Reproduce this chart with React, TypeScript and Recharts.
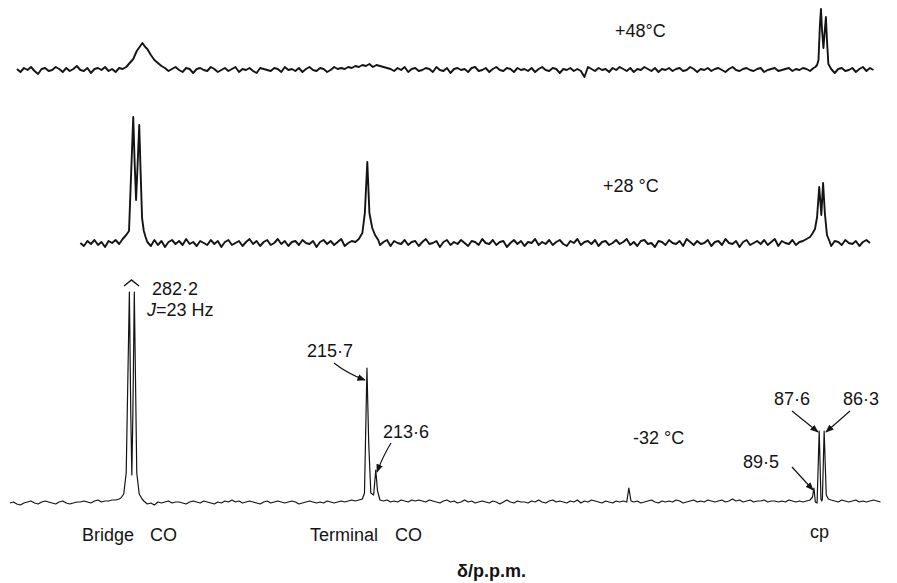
import React from 'react';
import { ComposedChart, Line, XAxis, YAxis } from 'recharts';

// 13C NMR traces, [ppm, intensity] (intensity above each trace's baseline)
const trace48: [number, number][] = [
  [315, 1], [314, -2], [313, 2], [312, 0], [311, 3], [310, -1], [309, -4], [308, 1], [307, 2], [306, -1],
  [305, 0], [304, 3], [303, 1], [302, -2], [301, 2], [300, -1], [299, 1], [298, 4], [297, 0], [296, -1],
  [295, 2], [294, -3], [293, 1], [292, 2], [291, 0], [290, 3], [289, -1], [288, 1], [287, -2], [286, 2],
  [285, 1], [284, 3], [283, 7], [282, 11], [281, 19], [280, 24], [279.4, 27], [278.6, 23], [278, 21], [277, 15],
  [276, 10], [275, 7], [274, 4], [273, 2], [272, -1], [271, 1], [270, 3], [269, 0], [268, -2], [267, 2],
  [266, 1], [265, -3], [264, 1], [263, 2], [262, 0], [261, -1], [260, 3], [259, 1], [258, -2], [257, 0],
  [256, 2], [255, -1], [254, 1], [253, 3], [252, -2], [251, 1], [250, 0], [249, 2], [248, -1], [247, -3],
  [246, 2], [245, 1], [244, 0], [243, -1], [242, 2], [241, 1], [240, -2], [239, 3], [238, 0], [237, 1],
  [236, -1], [235, 2], [234, -2], [233, 1], [232, 3], [231, 0], [230, -1], [229, 2], [228, 1], [227, -2],
  [226, 0], [225, 3], [224, 1], [223, 2], [222, 1], [221, 3], [220, 2], [219, 4], [218, 3], [217, 5],
  [216, 4], [215, 6], [214, 3], [213, 5], [212, 4], [211, 3], [210, 2], [209, 1], [208, -1], [207, 2],
  [206, 0], [205, 3], [204, -2], [203, 1], [202, 2], [201, -1], [200, 0], [199, 2], [198, 1], [197, -2],
  [196, 3], [195, 0], [194, -1], [193, 2], [192, -3], [191, 1], [190, 2], [189, 0], [188, 1], [187, -2],
  [186, 2], [185, 3], [184, -1], [183, 0], [182, 2], [181, -2], [180, 1], [179, 3], [178, 0], [177, -1],
  [176, 2], [175, 1], [174, -2], [173, 2], [172, 0], [171, 1], [170, -1], [169, 2], [168, -2], [167, 1],
  [166, 3], [165, 0], [164, -1], [163, 2], [162, 1], [161, -3], [160, 1], [159, 0], [158, 2], [157, -1],
  [156, 1], [155, -1], [154, -7], [153, 3], [152, 1], [151, -1], [150, 2], [149, 0], [148, 1], [147, -2],
  [146, 2], [145, 0], [144, 3], [143, 1], [142, -1], [141, 2], [140, -2], [139, 1], [138, 0], [137, 3],
  [136, 1], [135, -1], [134, 2], [133, -2], [132, 1], [131, 0], [130, 2], [129, -1], [128, 1], [127, 2],
  [126, -1], [125, 0], [124, 3], [123, 1], [122, -2], [121, 1], [120, 0], [119, 2], [118, -1], [117, 1],
  [116, 2], [115, 0], [114, -2], [113, 1], [112, 3], [111, 0], [110, -1], [109, 1], [108, 2], [107, 0],
  [106, -1], [105, 1], [104, 2], [103, -2], [102, 0], [101, 1], [100, 2], [99, -1], [98, 0], [97, 1],
  [96, 2], [95, -1], [94, 1], [93, 0], [92, 2], [91, 1], [90, -1], [89, 2], [88.5, 3], [88, 5],
  [87.6, 10], [87.2, 45], [86.9, 61], [86.6, 40], [86.2, 22], [85.8, 40], [85.5, 53], [85.2, 30], [84.8, 6], [84, 1],
  [83, -3], [82, 1], [81, 2], [80, -1], [79, 0], [78, 2], [77, -2], [76, 1], [75, 3], [74, -1],
  [73, 2], [72, 0],
];

const trace28: [number, number][] = [
  [297, 0], [296, -3], [295, 2], [294, -1], [293, 3], [292, -2], [291, 1], [290, -4], [289, 2], [288, 0],
  [287, 3], [286, -1], [285, 4], [284, 8], [283.6, 10], [283.2, 12], [282.7, 60], [282.0, 126], [281.6, 80], [281.2, 43],
  [280.8, 75], [280.3, 118], [279.9, 70], [279.5, 25], [279, 12], [278.5, 6], [278, 1], [277, -3], [276, 3], [275, -2],
  [274, 2], [273, -4], [272, 1], [271, 3], [270, -1], [269, 2], [268, -2], [267, 4], [266, -1], [265, 1],
  [264, -3], [263, 2], [262, 0], [261, -2], [260, 3], [259, -1], [258, 2], [257, -4], [256, 1], [255, 3],
  [254, -2], [253, 0], [252, 2], [251, -3], [250, 1], [249, 4], [248, -1], [247, 2], [246, -3], [245, 1],
  [244, 3], [243, -2], [242, 0], [241, 4], [240, -1], [239, 2], [238, -3], [237, 1], [236, 2], [235, -2],
  [234, 3], [233, 0], [232, -1], [231, 2], [230, -4], [229, 1], [228, 3], [227, -1], [226, 2], [225, -2],
  [224, 1], [223, 4], [222, -3], [221, 0], [220, 2], [219, 1], [218, 4], [217, 10], [216.3, 30], [215.6, 81],
  [215, 30], [214.2, 15], [213.4, 8], [212.5, 3], [212, -2], [211, 1], [210, 3], [209, -3], [208, 2], [207, 0],
  [206, -1], [205, 3], [204, -2], [203, 1], [202, 2], [201, -3], [200, 1], [199, 4], [198, -1], [197, 0],
  [196, 2], [195, -4], [194, 1], [193, 3], [192, -2], [191, 1], [190, -1], [189, 3], [188, 0], [187, -3],
  [186, 2], [185, 1], [184, -2], [183, 4], [182, 0], [181, -1], [180, 3], [179, -2], [178, 1], [177, 2],
  [176, -4], [175, 0], [174, 3], [173, -1], [172, 2], [171, -3], [170, 1], [169, 0], [168, 4], [167, -2],
  [166, 1], [165, -1], [164, 3], [163, -2], [162, 1], [161, 3], [160, -1], [159, -3], [158, 2], [157, 0],
  [156, 4], [155, -2], [154, 1], [153, 2], [152, -1], [151, 3], [150, -3], [149, 1], [148, 2], [147, -2],
  [146, 0], [145, 3], [144, -1], [143, 1], [142, 4], [141, -2], [140, 1], [139, -3], [138, 2], [137, 3],
  [136, -1], [135, 0], [134, -4], [133, 2], [132, 1], [131, -2], [130, 3], [129, 0], [128, -1], [127, 2],
  [126, -3], [125, 4], [124, 1], [123, -2], [122, 2], [121, -1], [120, 0], [119, 3], [118, -3], [117, 1],
  [116, 2], [115, -2], [114, 4], [113, 0], [112, -1], [111, 2], [110, -4], [109, 1], [108, 3], [107, -2],
  [106, 0], [105, 2], [104, -1], [103, 3], [102, -2], [101, 1], [100, 4], [99, -3], [98, 2], [97, 0],
  [96, -1], [95, 3], [94, -2], [93, 1], [92, 2], [91, 4], [90, 6], [89.4, 9], [88.6, 14], [88, 26],
  [87.4, 56], [87, 38], [86.8, 28], [86.3, 60], [85.8, 30], [85.2, 8], [84.5, 2], [84, -3], [83, 2], [82, 1],
  [81, -2], [80, 3], [79, 0], [78, -1], [77, 2], [76, -3], [75, 1], [74, 3], [73, 0],
];

const traceM32: [number, number][] = [
  [317, 0], [316, 1], [315, -1], [314, -2], [313, 0], [312, 1], [311, 2], [310, 0], [309, -1], [308, 1],
  [307, 2], [306, 1], [305, 0], [304, -1], [303, 1], [302, 2], [301, 0], [300, -1], [299, 0], [298, 1],
  [297, 1], [296, 2], [295, 1], [294, 0], [293, 2], [292, 3], [291, 1], [290, 2], [289, 2], [288, 3],
  [287, 3], [286, 4], [285.5, 5], [284.7, 9], [284.0, 30], [283.1, 211], [282.7, 90], [282.4, 28], [282.1, 90], [281.7, 211],
  [281.0, 30], [280.3, 9], [279.5, 4], [279, 2], [278, -1], [277, 0], [276, -2], [275, 1], [274, 0], [273, 1],
  [272, 2], [271, 0], [270, 1], [269, 1], [268, 0], [267, -1], [266, 1], [265, 2], [264, 1], [263, 0],
  [262, 2], [261, 1], [260, 0], [259, -1], [258, 1], [257, 0], [256, 2], [255, 1], [254, 3], [253, 1],
  [252, 2], [251, 0], [250, 1], [249, 2], [248, 1], [247, 0], [246, -1], [245, 1], [244, 2], [243, 0],
  [242, 1], [241, 2], [240, 1], [239, 0], [238, 1], [237, 2], [236, 1], [235, -1], [234, 0], [233, 1],
  [232, 2], [231, 1], [230, 0], [229, 1], [228, 0], [227, 2], [226, 1], [225, 0], [224, 1], [223, 2],
  [222, 1], [221, 2], [220, 3], [219, 2], [218, 3], [217, 4], [216.4, 10], [215.7, 135], [215.2, 60], [214.6, 10],
  [213.8, 8], [213.2, 33], [212.7, 12], [212, 3], [211, 2], [210, 3], [209, 1], [208, 2], [207, 1], [206, 3],
  [205, 2], [204, 1], [203, 3], [202, 2], [201, 3], [200, 2], [199, 1], [198, 3], [197, 2], [196, 1],
  [195, 0], [194, 2], [193, 3], [192, 1], [191, 2], [190, 0], [189, 1], [188, 3], [187, 1], [186, 2],
  [185, 0], [184, 1], [183, 2], [182, 1], [181, 0], [180, 2], [179, 1], [178, -1], [177, 1], [176, 3],
  [175, 1], [174, 0], [173, 2], [172, 1], [171, 1], [170, 0], [169, 2], [168, 1], [167, 3], [166, 1],
  [165, 0], [164, 2], [163, 3], [162, 1], [161, 2], [160, 1], [159, 0], [158, 2], [157, 1], [156, 3],
  [155, 0], [154, 2], [153, 1], [152, 3], [151, 2], [150, 1], [149, 0], [148, 2], [147, 1], [146, 0],
  [145, 2], [144, 1], [143, 2], [142, 1], [141.4, 15], [140.8, 2], [140, 1], [139, 2], [138, 0], [137, 1],
  [136, 2], [135, 3], [134, 1], [133, 0], [132, 2], [131, 1], [130, 2], [129, 1], [128, 3], [127, 2],
  [126, 0], [125, 1], [124, 2], [123, 3], [122, 1], [121, 2], [120, 1], [119, 3], [118, 2], [117, 1],
  [116, 2], [115, 3], [114, 1], [113, 2], [112, 4], [111, 2], [110, 3], [109, 1], [108, 2], [107, 3],
  [106, 1], [105, 2], [104, 2], [103, 3], [102, 1], [101, 2], [100, 2], [99, 1], [98, 2], [97, 1],
  [96, 3], [95, 2], [94, 1], [93, 2], [92, 1], [91, 2], [90, 3], [89.3, 6], [88.9, 15], [88.5, 1],
  [88.0, 0], [87.4, 72], [86.9, 4], [86.7, 2], [86.5, 4], [86.0, 72], [85.4, 8], [84.8, 4], [84, 3], [83, 2],
  [82, 1], [81, 3], [80, 2], [79, 1], [78, 2], [77, 3], [76, 1], [75, 2], [74, 1], [73, 2],
  [72, 3], [71, 2], [70, 1],
];

const W = 897;
const H = 583;
const ppmDomain: [number, number] = [65.33, 319.8];

// baselines of the three stacked traces, in chart y units
const series = [
  { key: 't48', data: trace48, base: 513, width: 1.9 },
  { key: 't28', data: trace28, base: 340, width: 1.9 },
  { key: 'tm32', data: traceM32, base: 80, width: 1.2 },
];

const ink = '#141414';
const font = '"Liberation Sans", Arial, sans-serif';

function Annotations() {
  const t = { fontFamily: font, fontSize: 18, fill: ink };
  const a = { fill: 'none', stroke: ink, strokeWidth: 1.2, markerEnd: 'url(#head)' };
  return (
    <svg width={W} height={H} style={{ position: 'absolute', left: 0, top: 0, pointerEvents: 'none' }}>
      <defs>
        <marker id="head" viewBox="0 0 10 10" refX="9" refY="5" markerWidth="7" markerHeight="7" orient="auto">
          <path d="M0 1 L10 5 L0 9 Z" fill={ink} />
        </marker>
      </defs>
      <text x={615} y={37} {...t}>+48°C</text>
      <text x={603} y={192} {...t}>+28 °C</text>
      <path d="M124 286 L131.5 280 L139 286" fill="none" stroke={ink} strokeWidth={1.4} />
      <text x={152} y={295} {...t}>282·2</text>
      <text x={147} y={316} {...t}><tspan fontStyle="italic">J</tspan>=23 Hz</text>
      <text x={307} y={357} {...t}>215·7</text>
      <path d="M334 363 Q348 374 365 380" {...a} />
      <text x={383} y={438} {...t}>213·6</text>
      <path d="M391 443 Q383 456 377 472" {...a} />
      <text x={633} y={444} {...t}>-32 °C</text>
      <text x={774} y={405} {...t}>87·6</text>
      <text x={843} y={405} {...t}>86·3</text>
      <path d="M792 411 L818 432" {...a} />
      <path d="M850 411 L826 432" {...a} />
      <text x={743} y={468} {...t}>89·5</text>
      <path d="M792 467 L813 490" {...a} />
      <text x={82} y={541} {...t}>Bridge</text>
      <text x={150} y={541} {...t}>CO</text>
      <text x={310} y={541} {...t}>Terminal</text>
      <text x={395} y={541} {...t}>CO</text>
      <text x={810} y={538} {...t}>cp</text>
      <text x={457} y={577} {...t} fontWeight="bold">δ/p.p.m.</text>
    </svg>
  );
}

export default function App() {
  return (
    <div style={{ position: 'absolute', left: 0, top: 0, width: W, height: H, background: '#fff' }}>
      <ComposedChart width={W} height={H} margin={{ top: 0, right: 0, bottom: 0, left: 0 }}>
        <XAxis type="number" dataKey="ppm" domain={ppmDomain} reversed hide allowDataOverflow />
        <YAxis type="number" domain={[0, H]} hide allowDataOverflow />
        {series.map((s) => (
          <Line
            key={s.key}
            data={s.data.map(([ppm, h]) => ({ ppm, v: h + s.base }))}
            dataKey="v"
            type="linear"
            stroke={ink}
            strokeWidth={s.width}
            strokeLinejoin="round"
            dot={false}
            activeDot={false}
            isAnimationActive={false}
          />
        ))}
      </ComposedChart>
      <Annotations />
    </div>
  );
}
